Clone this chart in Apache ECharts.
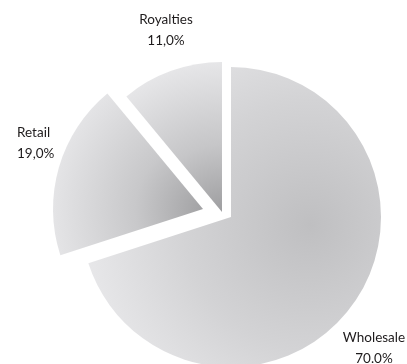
<!DOCTYPE html>
<html>
<head>
<meta charset="utf-8">
<style>
  html, body { margin: 0; padding: 0; background: #ffffff; }
  #chart { width: 407px; height: 364px; }
</style>
<script src="https://cdn.jsdelivr.net/npm/echarts@6/dist/echarts.min.js"></script>
</head>
<body>
<div id="chart"></div>
<script>
// ---- data ----
const categories = ['Wholesale', 'Retail', 'Royalties'];
const values = [70, 19, 11];
const valueLabels = ['70.0%', '19,0%', '11,0%'];

// ---- styling / layout (not data) ----
const centers = [[231, 217], [203, 209], [222, 212]];
const labelPlaces = [
  { x: 374, y: 348, align: 'center' },
  { x: 17, y: 143, align: 'left' },
  { x: 166, y: 30, align: 'center' }
];
const fills = [
  { type: 'radial', x: 310, y: 225, r: 250, global: true,
    colorStops: [{ offset: 0, color: '#bfbfc1' }, { offset: 0.5, color: '#d3d3d5' }, { offset: 1, color: '#ececee' }] },
  { type: 'radial', x: 203, y: 209, r: 150, global: true,
    colorStops: [{ offset: 0, color: '#a2a2a4' }, { offset: 0.45, color: '#c8c8ca' }, { offset: 1, color: '#e4e4e6' }] },
  { type: 'radial', x: 222, y: 212, r: 150, global: true,
    colorStops: [{ offset: 0, color: '#9e9ea0' }, { offset: 0.45, color: '#c6c6c8' }, { offset: 1, color: '#e6e6e8' }] }
];

const chart = echarts.init(document.getElementById('chart'), null, { renderer: 'canvas' });

const series = categories.map((cat, i) => ({
  type: 'pie',
  center: centers[i],
  radius: 150,
  startAngle: 90,
  clockwise: true,
  silent: true,
  animation: false,
  avoidLabelOverlap: false,
  labelLine: { show: false },
  label: {
    position: 'outside',
    formatter: p => p.name + '\n' + valueLabels[p.dataIndex],
    fontFamily: 'Lato',
    fontSize: 13.5,
    lineHeight: 21,
    color: '#1e1b1c'
  },
  labelLayout: Object.assign({ verticalAlign: 'middle' }, labelPlaces[i]),
  data: categories.map((name, j) => ({
    name: name,
    value: values[j],
    itemStyle: { color: j === i ? fills[i] : 'rgba(0,0,0,0)', borderWidth: 0 },
    label: { show: j === i }
  }))
}));

chart.setOption({
  backgroundColor: '#ffffff',
  series: series
});
</script>
</body>
</html>
